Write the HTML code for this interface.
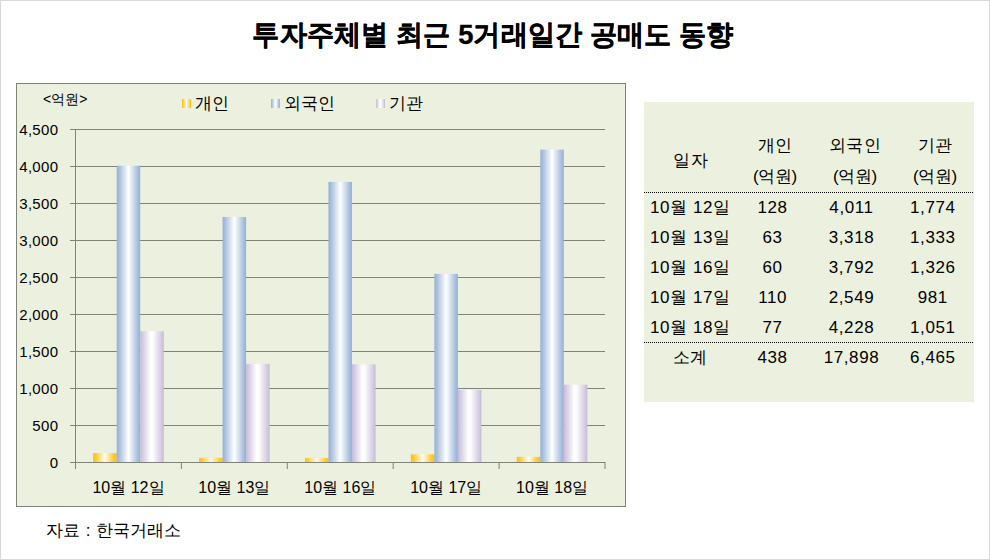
<!DOCTYPE html>
<html><head><meta charset="utf-8">
<style>
html,body{margin:0;padding:0;}
body{width:990px;height:560px;position:relative;overflow:hidden;background:#fff;font-family:"Liberation Sans",sans-serif;color:#000;}
.frame{position:absolute;left:0;top:0;width:988px;height:558px;border:1px solid #d9d9d9;}
.t{position:absolute;white-space:nowrap;line-height:1;}
.title{left:-2px;width:990px;top:21px;text-align:center;font-size:27.2px;font-weight:bold;-webkit-text-stroke:0.3px #000;transform:scale(1.008,1.04);transform-origin:50% 50%;}
svg{position:absolute;left:0;top:0;}
.yl{font-size:15px;width:50px;text-align:right;left:8.3px;letter-spacing:0.3px;}
.xl{font-size:16px;width:126px;text-align:center;letter-spacing:0px;}
.tb{position:absolute;left:644px;top:102px;width:330px;height:300px;background:#EBF1DE;}
.c{font-size:17px;text-align:center;width:120px;letter-spacing:0.6px;}
.sw{position:absolute;width:9px;height:9px;}
.lg{font-size:16.5px;top:95px;}
</style></head><body>
<div class="frame"></div>
<div class="t title">투자주체별 최근 5거래일간 공매도 동향</div>
<svg width="990" height="560" viewBox="0 0 990 560">
<defs>
<linearGradient id="gy" x1="0" x2="1" y1="0" y2="0">
<stop offset="0" stop-color="#F9C010"/><stop offset="0.12" stop-color="#FFC92E"/><stop offset="0.5" stop-color="#FFFCF0"/><stop offset="0.88" stop-color="#FFC92E"/><stop offset="1" stop-color="#F9C010"/>
</linearGradient>
<linearGradient id="gb" x1="0" x2="1" y1="0" y2="0">
<stop offset="0" stop-color="#96B0D3"/><stop offset="0.12" stop-color="#AAC1DF"/><stop offset="0.5" stop-color="#FFFFFF"/><stop offset="0.88" stop-color="#AAC1DF"/><stop offset="1" stop-color="#96B0D3"/>
</linearGradient>
<linearGradient id="gp" x1="0" x2="1" y1="0" y2="0">
<stop offset="0" stop-color="#C6BAD7"/><stop offset="0.1" stop-color="#D4CAE2"/><stop offset="0.45" stop-color="#FFFFFF"/><stop offset="0.55" stop-color="#FCFBFD"/><stop offset="0.9" stop-color="#D4CAE2"/><stop offset="1" stop-color="#C6BAD7"/>
</linearGradient>
</defs>
<rect x="16.5" y="83.5" width="609" height="423" fill="#EBF1DE" stroke="#7E8279" stroke-width="1"/>
<path d="M70 129.5H605M70 166.5H605M70 203.5H605M70 240.5H605M70 277.5H605M70 314.5H605M70 351.5H605M70 388.5H605M70 425.5H605" stroke="#7F8378" stroke-width="1" fill="none"/>
<rect x="93.15" y="453.03" width="23.53" height="9.47" fill="url(#gy)"/>
<rect x="116.68" y="165.69" width="23.53" height="296.81" fill="url(#gb)"/>
<rect x="140.22" y="331.22" width="23.53" height="131.28" fill="url(#gp)"/>
<rect x="199.05" y="457.84" width="23.53" height="4.66" fill="url(#gy)"/>
<rect x="222.58" y="216.97" width="23.53" height="245.53" fill="url(#gb)"/>
<rect x="246.12" y="363.86" width="23.53" height="98.64" fill="url(#gp)"/>
<rect x="304.95" y="458.06" width="23.53" height="4.44" fill="url(#gy)"/>
<rect x="328.48" y="181.89" width="23.53" height="280.61" fill="url(#gb)"/>
<rect x="352.02" y="364.38" width="23.53" height="98.12" fill="url(#gp)"/>
<rect x="410.85" y="454.36" width="23.53" height="8.14" fill="url(#gy)"/>
<rect x="434.38" y="273.87" width="23.53" height="188.63" fill="url(#gb)"/>
<rect x="457.92" y="389.91" width="23.53" height="72.59" fill="url(#gp)"/>
<rect x="516.75" y="456.80" width="23.53" height="5.70" fill="url(#gy)"/>
<rect x="540.28" y="149.63" width="23.53" height="312.87" fill="url(#gb)"/>
<rect x="563.82" y="384.73" width="23.53" height="77.77" fill="url(#gp)"/>
<path d="M75.5 129V469M70 462.5H605M181.4 462V469M287.3 462V469M393.2 462V469M499.1 462V469M605.0 462V469" stroke="#7F8378" stroke-width="1" fill="none"/>
</svg>
<div class="t" style="left:43px;top:92px;font-size:14px;">&lt;억원&gt;</div>
<div class="t yl" style="top:122.0px">4,500</div>
<div class="t yl" style="top:159.0px">4,000</div>
<div class="t yl" style="top:196.0px">3,500</div>
<div class="t yl" style="top:233.0px">3,000</div>
<div class="t yl" style="top:270.0px">2,500</div>
<div class="t yl" style="top:307.0px">2,000</div>
<div class="t yl" style="top:344.0px">1,500</div>
<div class="t yl" style="top:381.0px">1,000</div>
<div class="t yl" style="top:418.0px">500</div>
<div class="t yl" style="top:455.0px">0</div>
<div class="t xl" style="left:65.5px;top:480px">10월 12일</div>
<div class="t xl" style="left:171.4px;top:480px">10월 13일</div>
<div class="t xl" style="left:277.3px;top:480px">10월 16일</div>
<div class="t xl" style="left:383.2px;top:480px">10월 17일</div>
<div class="t xl" style="left:489.1px;top:480px">10월 18일</div>

<div class="t" style="left:46px;top:522px;font-size:17px;word-spacing:1px;">자료 : 한국거래소</div>
<div class="tb"></div>
<div class="t c" style="left:631.1px;top:152px">일자</div>
<div class="t c" style="left:715.3px;top:137px">개인</div>
<div class="t c" style="left:714.8px;top:168px;letter-spacing:-0.4px">(억원)</div>
<div class="t c" style="left:795.3px;top:137px">외국인</div>
<div class="t c" style="left:794.8px;top:168px;letter-spacing:-0.4px">(억원)</div>
<div class="t c" style="left:875.3px;top:137px">기관</div>
<div class="t c" style="left:874.8px;top:168px;letter-spacing:-0.4px">(억원)</div>
<div class="t c" style="left:630.3px;top:199px">10월 12일</div>
<div class="t c" style="left:712.6px;top:199px">128</div>
<div class="t c" style="left:791.5px;top:199px">4,011</div>
<div class="t c" style="left:872.8px;top:199px">1,774</div>
<div class="t c" style="left:630.3px;top:229px">10월 13일</div>
<div class="t c" style="left:712.6px;top:229px">63</div>
<div class="t c" style="left:791.5px;top:229px">3,318</div>
<div class="t c" style="left:872.8px;top:229px">1,333</div>
<div class="t c" style="left:630.3px;top:259px">10월 16일</div>
<div class="t c" style="left:712.6px;top:259px">60</div>
<div class="t c" style="left:791.5px;top:259px">3,792</div>
<div class="t c" style="left:872.8px;top:259px">1,326</div>
<div class="t c" style="left:630.3px;top:289px">10월 17일</div>
<div class="t c" style="left:712.6px;top:289px">110</div>
<div class="t c" style="left:791.5px;top:289px">2,549</div>
<div class="t c" style="left:872.8px;top:289px">981</div>
<div class="t c" style="left:630.3px;top:319px">10월 18일</div>
<div class="t c" style="left:712.6px;top:319px">77</div>
<div class="t c" style="left:791.5px;top:319px">4,228</div>
<div class="t c" style="left:872.8px;top:319px">1,051</div>
<div class="t c" style="left:630.3px;top:349px">소계</div>
<div class="t c" style="left:712.6px;top:349px">438</div>
<div class="t c" style="left:791.5px;top:349px">17,898</div>
<div class="t c" style="left:872.8px;top:349px">6,465</div>
<svg width="990" height="560" style="position:absolute;left:0;top:0"><path d="M644 192.5H974M644 342.5H974" stroke="#000" stroke-width="1" stroke-dasharray="1 1" fill="none"/></svg>
<div class="sw" style="left:182px;top:99px;background:linear-gradient(90deg,#F9C010,#FFC92E 12%,#FFFCF0 50%,#FFC92E 88%,#F9C010)"></div>
<div class="t lg" style="left:195px;">개인</div>
<div class="sw" style="left:271px;top:99px;background:linear-gradient(90deg,#96B0D3,#AAC1DF 12%,#fff 50%,#AAC1DF 88%,#96B0D3)"></div>
<div class="t lg" style="left:284px;">외국인</div>
<div class="sw" style="left:376px;top:99px;background:linear-gradient(90deg,#C6BAD7,#D4CAE2 10%,#fff 45%,#FCFBFD 55%,#D4CAE2 90%,#C6BAD7)"></div>
<div class="t lg" style="left:389px;">기관</div>
</body></html>
